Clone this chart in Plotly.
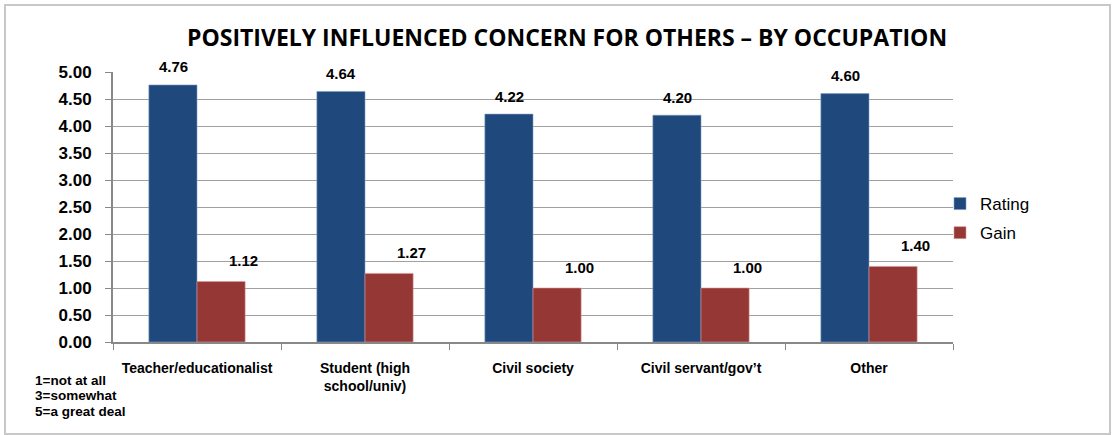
import plotly.graph_objects as go

categories = ["Teacher/educationalist", "Student (high<br>school/univ)", "Civil society",
              "Civil servant/gov\u2019t", "Other"]
rating = [4.76, 4.64, 4.22, 4.20, 4.60]
gain = [1.12, 1.27, 1.00, 1.00, 1.40]
y_ticks = [0, 0.5, 1.0, 1.5, 2.0, 2.5, 3.0, 3.5, 4.0, 4.5, 5.0]
title_text = "POSITIVELY INFLUENCED CONCERN FOR OTHERS \u2013 BY OCCUPATION"
footnote = ["1=not at all", "3=somewhat", "5=a great deal"]

W, H = 1117, 435
L, R, T, B = 113, 164, 72, 93
pw, ph = W - L - R, H - T - B

def px_x(px):
    return (px - L) / pw

def px_y(py):
    return (H - B - py) / ph

fig = go.Figure()
fig.add_trace(go.Bar(x=categories, y=rating, name="Rating",
                     marker=dict(color="#1F497D", line=dict(color="#7f9cc0", width=0.6)),
                     legendgroup="a"))
fig.add_trace(go.Bar(x=categories, y=gain, name="Gain",
                     marker=dict(color="#953735", line=dict(color="#d89a99", width=0.6)),
                     legendgroup="b"))

lab_font = dict(family="Liberation Sans, Arial", size=15, color="#000")
annotations = []
for c, v in zip(categories, rating):
    annotations.append(dict(x=c, y=v, xref="x", yref="y", text=f"<b>{v:.2f}</b>", showarrow=False,
                            xshift=-24, yshift=18, font=lab_font))
for c, v in zip(categories, gain):
    annotations.append(dict(x=c, y=v, xref="x", yref="y", text=f"<b>{v:.2f}</b>", showarrow=False,
                            xshift=46, yshift=21, font=lab_font))

annotations.append(dict(x=px_x(567), y=px_y(37), xref="paper", yref="paper", text="<b>" + title_text + "</b>",
                        showarrow=False, xanchor="center", yanchor="middle",
                        font=dict(family="Open Sans", size=23, color="#000")))

for i, t in enumerate(footnote):
    annotations.append(dict(x=px_x(33), y=px_y(380 + 15.5 * i), xref="paper", yref="paper",
                            text=f"<b>{t}</b>", showarrow=False, xanchor="left", yanchor="middle",
                            font=dict(family="Liberation Sans, Arial", size=13.5, color="#000")))

fig.update_layout(
    width=W, height=H,
    margin=dict(l=L, r=R, t=T, b=B, pad=0),
    paper_bgcolor="white", plot_bgcolor="white",
    barmode="group", bargap=0.427, bargroupgap=0,
    annotations=annotations,
    showlegend=True,
    legend=dict(x=px_x(940), y=px_y(186), xanchor="left", yanchor="top",
                font=dict(family="Liberation Sans, Arial", size=17, color="#000"),
                tracegroupgap=4, traceorder="grouped", bgcolor="rgba(0,0,0,0)"),
    shapes=[dict(type="rect", xref="paper", yref="paper",
                 x0=px_x(5), x1=px_x(1110), y0=px_y(434), y1=px_y(5),
                 line=dict(color="#c8c8c8", width=2), layer="above")],
)
fig.update_xaxes(type="category", showline=True, linecolor="#888888", linewidth=2,
                 ticks="outside", tickson="boundaries", ticklen=6, tickcolor="#888888", tickwidth=1,
                 tickfont=dict(family="Liberation Sans, Arial", size=14, color="#000"),
                 ticklabelstandoff=12,
                 tickprefix="<b>", ticksuffix="</b>", showgrid=False)
fig.update_yaxes(range=[0, 5], tickvals=y_ticks, ticktext=[f"<b>{v:.2f}</b>" for v in y_ticks],
                 showline=True, linecolor="#888888", linewidth=2,
                 ticks="outside", ticklen=6, tickcolor="#888888",
                 tickfont=dict(family="Liberation Sans, Arial", size=17, color="#000"),
                 ticklabelstandoff=10,
                 showgrid=True, gridcolor="#a0a0a0", gridwidth=1, zeroline=False)

fig.write_html("out.html", config={"displayModeBar": False},
               post_script="document.body.style.margin='0';document.body.style.overflow='hidden';")
